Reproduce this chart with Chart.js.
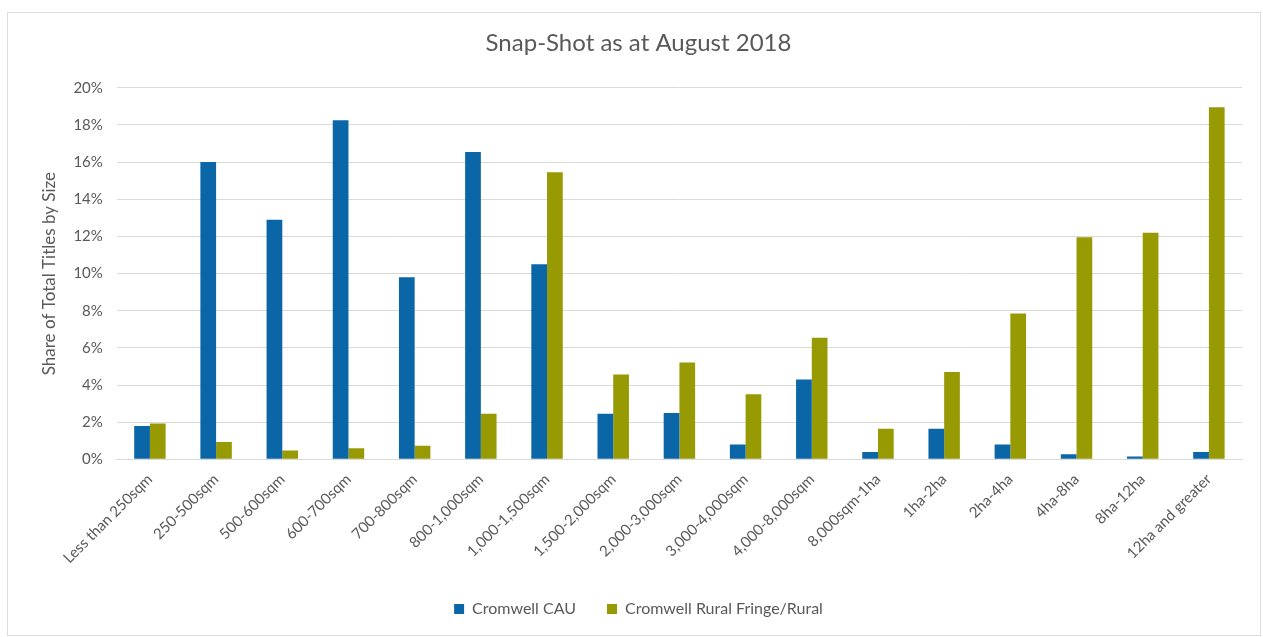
<!DOCTYPE html>
<html>
<head>
<meta charset="utf-8">
<script src="https://cdn.jsdelivr.net/npm/chart.js@4"></script>
<style>
    body { margin: 0; background: #ffffff; }
    #box {
        position: absolute;
        left: 7px; top: 12px;
        width: 1252px; height: 622px;
        border: 1px solid #dcdcdc;
    }
</style>
</head>
<body>
<div id="box"><canvas id="chart"></canvas></div>
<script>
// categories along the x axis
var sizes = ['Less than 250sqm', '250-500sqm', '500-600sqm', '600-700sqm', '700-800sqm',
    '800-1,000sqm', '1,000-1,500sqm', '1,500-2,000sqm', '2,000-3,000sqm', '3,000-4,000sqm',
    '4,000-8,000sqm', '8,000sqm-1ha', '1ha-2ha', '2ha-4ha', '4ha-8ha', '8ha-12ha', '12ha and greater'];

// share of total titles (%)
var cau = [1.8, 16.0, 12.9, 18.25, 9.8, 16.55, 10.5, 2.45, 2.5, 0.8, 4.3, 0.4, 1.65, 0.8, 0.27, 0.15, 0.4];
var rural = [1.93, 0.93, 0.48, 0.6, 0.73, 2.45, 15.45, 4.57, 5.22, 3.5, 6.55, 1.65, 4.7, 7.85, 11.95, 12.2, 18.95];

var yTicks = [0, 2, 4, 6, 8, 10, 12, 14, 16, 18, 20];

var fontFace = "Lato, 'Open Sans', sans-serif";
var textGrey = '#595959';

var ctx = document.getElementById('chart');
var Graph = new Chart(ctx, {
    type: 'bar',
    data: {
        labels: sizes,
        datasets: [{
            label: 'Cromwell CAU',
            data: cau,
            backgroundColor: '#0a66a6',
            categoryPercentage: 0.475,
            barPercentage: 1
        }, {
            label: 'Cromwell Rural Fringe/Rural',
            data: rural,
            backgroundColor: '#989a04',
            categoryPercentage: 0.475,
            barPercentage: 1
        }]
    },
    options: {
        responsive: true,
        maintainAspectRatio: false,
        animation: false,
        layout: { padding: { left: 27, right: 18, top: 0, bottom: 8 } },
        plugins: {
            title: {
                display: true,
                text: 'Snap-Shot as at August 2018',
                color: textGrey,
                font: { family: fontFace, size: 24, weight: 'normal' },
                padding: { top: 16, bottom: 30 }
            },
            legend: {
                position: 'bottom',
                labels: {
                    color: textGrey,
                    font: { family: fontFace, size: 16 },
                    boxWidth: 10,
                    boxHeight: 10,
                    padding: 31
                }
            },
            tooltip: { enabled: false }
        },
        scales: {
            x: {
                grid: { display: false },
                border: { color: '#d9d9d9' },
                ticks: {
                    color: textGrey,
                    font: { family: fontFace, size: 15 },
                    maxRotation: 45,
                    minRotation: 45,
                    autoSkip: false
                }
            },
            y: {
                min: 0,
                max: 20,
                afterBuildTicks: function (axis) {
                    axis.ticks = yTicks.map(function (v) { return { value: v }; });
                },
                grid: { color: '#d9d9d9', drawTicks: false },
                border: { display: false },
                ticks: {
                    color: textGrey,
                    font: { family: fontFace, size: 15 },
                    padding: 14,
                    callback: function (v) { return v + '%'; }
                },
                title: {
                    display: true,
                    text: 'Share of Total Titles by Size',
                    color: textGrey,
                    font: { family: fontFace, size: 17 },
                    padding: { bottom: 0 }
                }
            }
        }
    }
});
</script>
</body>
</html>
